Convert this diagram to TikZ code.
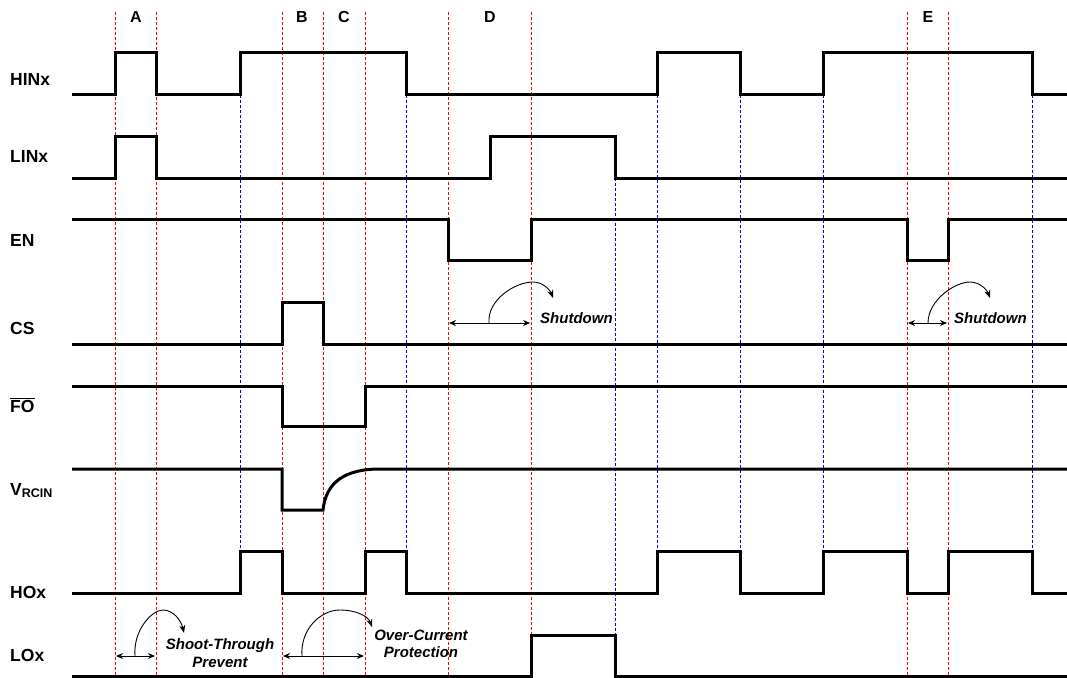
\documentclass[tikz,border=0pt]{standalone}
\usepackage{fontspec}
\setmainfont{Liberation Sans}
\usetikzlibrary{arrows.meta}

\begin{document}
\begin{tikzpicture}[x=1pt, y=-1pt,
  sig/.style={line width=3pt},
  redline/.style={red, dash pattern=on 3pt off 2pt, line width=0.8pt},
  blueline/.style={blue, dash pattern=on 3pt off 2pt, line width=0.8pt},
  lbl/.style={font=\fontsize{17.5}{18}\selectfont\bfseries, anchor=base west, inner sep=0pt},
  phase/.style={font=\fontsize{16}{16}\selectfont\bfseries, inner sep=0pt},
  note/.style={font=\fontsize{15}{17.5}\selectfont\bfseries\itshape, inner sep=0pt, align=center},
  spanarr/.style={{Stealth[length=7pt,width=6pt]}-{Stealth[length=7pt,width=6pt]}, line width=0.9pt},
  curvearr/.style={-{Stealth[length=8pt,width=6pt]}, line width=0.9pt}]
  \useasboundingbox (0,0) rectangle (1067,677);

  % timing markers
  \foreach \x in {115,156,282,323,365,448,531,907,948}
    \draw[redline] (\x,12) -- (\x,677);
  \foreach \x in {240,406,657,740,823,1032}
    \draw[blueline] (\x,95) -- (\x,551);
  \draw[blueline] (615,178) -- (615,635);

  \node[phase] (pa) at (136,17) {A};
  \node[phase] (pb) at (302,17) {B};
  \node[phase] (pc) at (344,17) {C};
  \node[phase] (pd) at (490,17) {D};
  \node[phase] (pe) at (928,17) {E};

  % signal names
  \node[lbl] (hin) at (10,85) {HINx};
  \node[lbl] (lin) at (10,162) {LINx};
  \node[lbl] (en) at (10,246) {EN};
  \node[lbl] (cs) at (10,334) {CS};
  \node[lbl] (fo) at (10,412) {$\overline{\mbox{FO}}$};
  \node[lbl] (rcin) at (10,495) {V{\fontsize{12.5}{12}\selectfont\raisebox{-2.5pt}{RCIN}}};
  \node[lbl] (ho) at (10,598) {HOx};
  \node[lbl] (lo) at (10,661) {LOx};

  % waveforms
  \draw[sig] (72,94) -- (115,94) -- (115,53) -- (156,53) -- (156,94) -- (240,94)
    -- (240,53) -- (406,53) -- (406,94) -- (657,94) -- (657,53) -- (740,53)
    -- (740,94) -- (823,94) -- (823,53) -- (1032,53) -- (1032,94) -- (1067,94);
  \draw[sig] (72,178) -- (115,178) -- (115,136) -- (156,136) -- (156,178)
    -- (490,178) -- (490,136) -- (615,136) -- (615,178) -- (1067,178);
  \draw[sig] (72,219) -- (448,219) -- (448,260) -- (531,260) -- (531,219)
    -- (907,219) -- (907,260) -- (948,260) -- (948,219) -- (1067,219);
  \draw[sig] (72,344) -- (282,344) -- (282,302) -- (323,302) -- (323,344) -- (1067,344);
  \draw[sig] (72,386) -- (282,386) -- (282,426) -- (365,426) -- (365,386) -- (1067,386);
  \draw[sig] (72,469) -- (282,469) -- (282,510) -- (323,510)
    .. controls (326,482) and (345,469) .. (380,469) -- (1067,469);
  \draw[sig] (72,593) -- (240,593) -- (240,551) -- (282,551) -- (282,593)
    -- (365,593) -- (365,551) -- (406,551) -- (406,593) -- (657,593)
    -- (657,551) -- (740,551) -- (740,593) -- (823,593) -- (823,551)
    -- (907,551) -- (907,593) -- (948,593) -- (948,551) -- (1032,551)
    -- (1032,593) -- (1067,593);
  \draw[sig] (72,676) -- (531,676) -- (531,635) -- (615,635) -- (615,676) -- (1067,676);

  % annotations
  \coordinate (st1) at (116,656);
  \coordinate (st2) at (155,656);
  \draw[spanarr] (st1) -- (st2);
  \draw[curvearr] (135,656) .. controls (133,630) and (152,610) .. (163,610)
    .. controls (173,610) and (181,620) .. (184,633);
  \node[note] (shoot) at (220,653) {Shoot-Through\\Prevent};

  \coordinate (oc1) at (283,656);
  \coordinate (oc2) at (364,656);
  \draw[spanarr] (oc1) -- (oc2);
  \draw[curvearr] (302,656) .. controls (300,630) and (320,610) .. (340,610)
    .. controls (356,610) and (368,616) .. (372,627);
  \node[note] (ocp) at (421,644) {Over-Current\\Protection};

  \coordinate (sd1) at (449,323);
  \coordinate (sd2) at (530,323);
  \draw[spanarr] (sd1) -- (sd2);
  \draw[curvearr] (489,323) .. controls (487,300) and (515,282) .. (533,282)
    .. controls (543,282) and (550,290) .. (553,298);
  \node[note, anchor=west] (shutd) at (540,318) {Shutdown};

  \coordinate (se1) at (908,323);
  \coordinate (se2) at (947,323);
  \draw[spanarr] (se1) -- (se2);
  \draw[curvearr] (928,323) .. controls (928,300) and (955,282) .. (970,282)
    .. controls (980,282) and (987,290) .. (990,298);
  \node[note, anchor=west] (shute) at (954,318) {Shutdown};
\end{tikzpicture}
\end{document}
